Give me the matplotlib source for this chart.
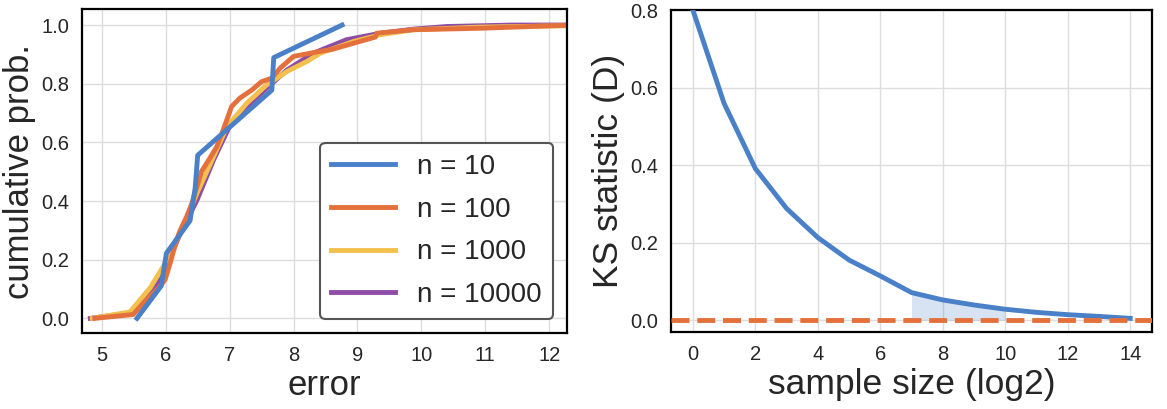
import matplotlib
matplotlib.use('Agg')
import matplotlib.pyplot as plt

# ---- data ----
# left: empirical CDFs of the error for several sample sizes
err_n10 = [5.55, 5.93, 6.01, 6.38, 6.46, 6.50, 7.08, 7.66, 7.69, 8.76]
cdf_n10 = [0.0, 0.111, 0.222, 0.333, 0.444, 0.556, 0.667, 0.778, 0.889, 1.0]

err_n100 = [4.89, 5.49, 5.70, 5.91, 5.99, 6.07, 6.17, 6.23, 6.33, 6.41,
            6.49, 6.56, 6.69, 6.80, 6.90, 7.03, 7.16, 7.35, 7.50, 7.66,
            7.79, 8.00, 8.31, 8.62, 8.94, 9.28, 9.30, 9.88, 10.92, 12.40]
cdf_n100 = [0.0, 0.013, 0.064, 0.109, 0.132, 0.189, 0.268, 0.302, 0.348, 0.393,
            0.450, 0.501, 0.546, 0.586, 0.643, 0.722, 0.751, 0.779, 0.807, 0.819,
            0.853, 0.893, 0.906, 0.918, 0.938, 0.959, 0.972, 0.984, 0.989, 1.0]

err_n1000 = [4.85, 5.44, 5.76, 5.96, 6.23, 6.49, 6.75, 6.96, 7.27, 7.58,
             7.90, 8.21, 8.42, 8.94, 9.36, 9.88, 10.92, 12.40]
cdf_n1000 = [0.0, 0.022, 0.105, 0.177, 0.291, 0.427, 0.552, 0.654, 0.734, 0.796,
             0.842, 0.876, 0.904, 0.944, 0.967, 0.984, 0.993, 0.998]

err_n10000 = [4.82, 5.49, 5.70, 5.96, 6.23, 6.49, 6.75, 7.01, 7.27, 7.58,
              7.90, 8.31, 8.83, 9.36, 9.88, 10.40, 11.44, 12.40]
cdf_n10000 = [0.0, 0.020, 0.064, 0.155, 0.290, 0.404, 0.541, 0.660, 0.722, 0.785,
              0.847, 0.904, 0.950, 0.972, 0.986, 0.995, 1.0, 1.0]

# right: KS statistic vs log2 sample size
log2_size = [0, 1, 2, 3, 4, 5, 6, 7, 8, 9, 10, 11, 12, 13, 14]
ks_stat = [0.80, 0.559, 0.391, 0.288, 0.213, 0.155, 0.114, 0.071, 0.052,
           0.039, 0.028, 0.020, 0.014, 0.0095, 0.0045]
shade_from, shade_to = 7, 10

labels = ['n = 10', 'n = 100', 'n = 1000', 'n = 10000']
colors = ['#4A80C8', '#E4703C', '#F3C04E', '#8E4CA4']

plt.rcParams['font.family'] = ['Liberation Sans', 'DejaVu Sans']
plt.rcParams['text.color'] = '#262626'
plt.rcParams['axes.labelcolor'] = '#262626'
plt.rcParams['xtick.color'] = '#262626'
plt.rcParams['ytick.color'] = '#262626'

fig = plt.figure(figsize=(11.67, 4.09), dpi=100)
ax1 = fig.add_axes([0.0703, 0.1858, 0.4156, 0.7910])
ax2 = fig.add_axes([0.5750, 0.1880, 0.4122, 0.7873])

lw = 3.5
series = [(err_n10, cdf_n10), (err_n100, cdf_n100),
          (err_n1000, cdf_n1000), (err_n10000, cdf_n10000)]
handles = [None] * 4
# draw largest n first so the n=10 curve sits on top
for i in [3, 2, 1, 0]:
    x, y = series[i]
    handles[i], = ax1.plot(x, y, color=colors[i], lw=lw, label=labels[i])

ax1.set_xlim(4.69, 12.28)
ax1.set_ylim(-0.05, 1.053)
ax1.set_xticks(range(5, 13))
ax1.set_yticks([0.0, 0.2, 0.4, 0.6, 0.8, 1.0])
ax1.set_xlabel('error', fontsize=25, labelpad=3)
ax1.set_ylabel('cumulative prob.', fontsize=25, labelpad=4)
leg = ax1.legend(handles=handles, loc='lower right', fontsize=20,
                 handlelength=2.3, labelspacing=0.6, borderaxespad=0.5,
                 frameon=True, fancybox=True)
leg.get_frame().set_edgecolor('#555555')
leg.get_frame().set_linewidth(1.5)
leg.get_frame().set_alpha(1.0)

ax2.plot(log2_size, ks_stat, color=colors[0], lw=lw, zorder=3)
ax2.fill_between(log2_size, ks_stat, 0,
                 where=[shade_from <= v <= shade_to for v in log2_size],
                 color=colors[0], alpha=0.22, lw=0, zorder=2)
ax2.axhline(0, color=colors[1], lw=lw, ls='--', zorder=4)
ax2.set_xlim(-0.7, 14.7)
ax2.set_ylim(-0.031, 0.8)
ax2.set_xticks(range(0, 15, 2))
ax2.set_yticks([0.0, 0.2, 0.4, 0.6, 0.8])
ax2.set_xlabel('sample size (log2)', fontsize=25.5, labelpad=3)
ax2.set_ylabel('KS statistic (D)', fontsize=25.5, labelpad=4)

for ax in (ax1, ax2):
    ax.grid(True, color='#dddddd', lw=1.0)
    ax.set_axisbelow(True)
    ax.tick_params(length=0, pad=9, labelsize=14.5)
    for s in ax.spines.values():
        s.set_color('black')
        s.set_linewidth(1.6)

fig.savefig('out.png', dpi=100)
